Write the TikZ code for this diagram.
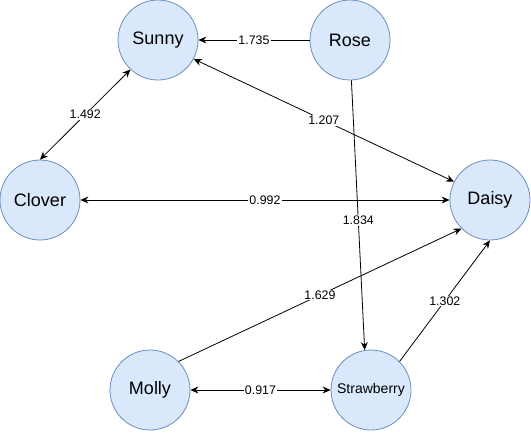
\documentclass[tikz,border=0pt]{standalone}
\usepackage{fontspec}
\setmainfont{Liberation Sans}
\usetikzlibrary{arrows.meta}
\definecolor{nodefill}{HTML}{DAE8FC}
\definecolor{nodeline}{HTML}{6C8EBF}
\tikzset{
  vert/.style={circle, draw=nodeline, fill=nodefill, line width=0.8pt, minimum size=80pt, inner sep=0pt, font=\fontsize{18}{21}\selectfont},
  wt/.style={fill=white, inner sep=1pt, font=\fontsize{12.4}{14}\selectfont},
  tip/.style={line width=0.8pt, -{Stealth[length=8pt,width=7pt]}},
  tips/.style={line width=0.8pt, {Stealth[length=8pt,width=7pt]}-{Stealth[length=8pt,width=7pt]}},
}

\begin{document}
\begin{tikzpicture}[x=1pt,y=-1pt]
		\useasboundingbox (0,0) rectangle (531,432);
		% Define nodes
		\node[vert] (Su) at (158,40) {Sunny};
		\node[vert] (Ro) at (350,40) {Rose};
		\node[vert] (Cl) at (40,200) {Clover};
		\node[vert] (Da) at (490,200) {Daisy};
		\node[vert] (Mo) at (150,390) {Molly};
		\node[vert, font=\fontsize{14}{16}\selectfont] (St) at (371,390) {Strawberry};

	  % Connect the nodes
		\draw[tip] (Ro.180) -- node[wt] {1.735} (Su.0);
		\draw[tips] (Su.-28) -- node[wt] {1.207} (Da.153);
		\draw[tips] (Su.227) -- node[wt] {1.492} (Cl.90);
		\draw[tips] (Cl.0) -- node[wt] {0.992} (Da.180);
		\draw[tip] (Ro.-88) -- node[wt, pos=0.52] {1.834} (St.99);
		\draw[tip] (Mo.45) -- node[wt] {1.629} (Da.225);
		\draw[tips] (Mo.0) -- node[wt] {0.917} (St.180);
		\draw[tip] (St.45) -- node[wt] {1.302} (Da.270);
	\end{tikzpicture}
\end{document}
